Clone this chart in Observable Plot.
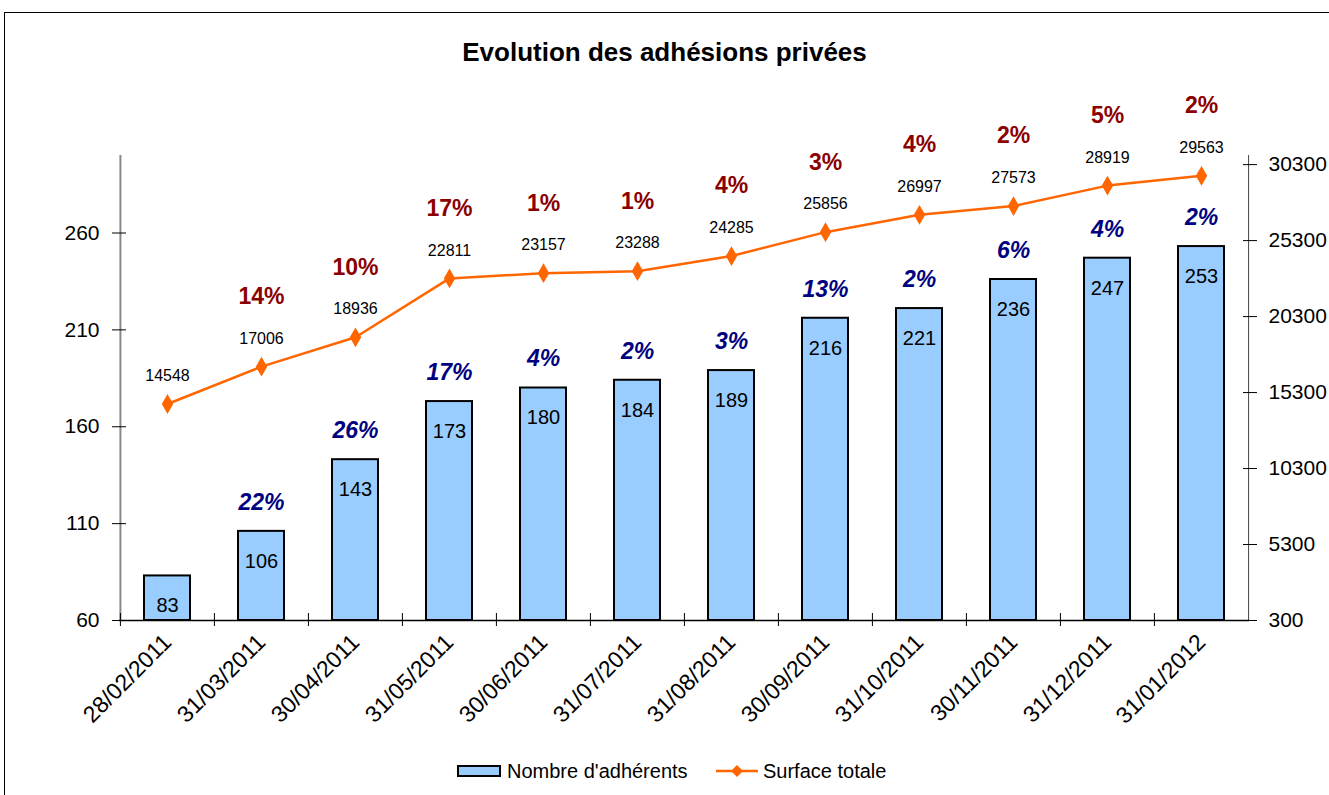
<!DOCTYPE html>
<html>
<head>
<meta charset="utf-8">
<script src="https://cdn.jsdelivr.net/npm/d3@7"></script>
<script src="https://cdn.jsdelivr.net/npm/@observablehq/plot@0.6"></script>
<style>
  html, body { margin: 0; padding: 0; background: #fff; overflow: hidden; }
  body { width: 1329px; height: 795px; position: relative; font-family: "Liberation Sans", Arial, sans-serif; }
  #frame { position: absolute; left: 4px; top: 12px; width: 1400px; height: 900px; border: 1.5px solid #000; box-sizing: border-box; z-index: 10; pointer-events: none; background: transparent; }
  #title { position: absolute; left: 0; top: 37px; width: 1329px; text-align: center; font-size: 26px; font-weight: bold; line-height: 30px; color: #000; }
  #chart { position: absolute; left: 0; top: 80px; }
  #legend { position: absolute; top: 759px; left: 0; width: 1329px; height: 24px; font-size: 20px; color: #000; }
  .item { position: absolute; top: 0; display: flex; align-items: center; height: 24px; }
</style>
</head>
<body>
<div id="frame"></div>
<div id="title">Evolution des adhésions privées</div>
<div id="chart"></div>
<div id="legend">
  <div class="item" style="left:457px">
    <svg width="46" height="16" style="margin-right:4px"><rect x="1" y="3" width="42" height="10" fill="#99CCFF" stroke="#000" stroke-width="2"/></svg>
    <span>Nombre d'adhérents</span>
  </div>
  <div class="item" style="left:715px">
    <svg width="46" height="16" style="margin-right:2px"><line x1="1" y1="8" x2="43" y2="8" stroke="#FF6600" stroke-width="2.5"/><path d="M22,2 L28,8 L22,14 L16,8 Z" fill="#FF6600"/></svg>
    <span>Surface totale</span>
  </div>
</div>
<script>
const dates = ["28/02/2011","31/03/2011","30/04/2011","31/05/2011","30/06/2011","31/07/2011","31/08/2011","30/09/2011","31/10/2011","30/11/2011","31/12/2011","31/01/2012"];
const adherents = [83,106,143,173,180,184,189,216,221,236,247,253];
const adherentsPct = [null,22,26,17,4,2,3,13,2,6,4,2];
const surface = [14548,17006,18936,22811,23157,23288,24285,25856,26997,27573,28919,29563];
const surfacePct = [null,14,10,17,1,1,4,3,4,2,5,2];
const leftTicks = [60,110,160,210,260];
const rightTicks = [300,5300,10300,15300,20300,25300,30300];

const leftDomain = [60, 300];
const rightDomain = [300, 30900];
const toLeft = s => leftDomain[0] + (s - rightDomain[0]) * (leftDomain[1] - leftDomain[0]) / (rightDomain[1] - rightDomain[0]);
const toRight = v => rightDomain[0] + (v - leftDomain[0]) * (rightDomain[1] - rightDomain[0]) / (leftDomain[1] - leftDomain[0]);

const table = dates.map((d, i) => ({
  date: d, n: adherents[i], np: adherentsPct[i],
  s: surface[i], sl: toLeft(surface[i]), sp: surfacePct[i]
}));
const withPct = table.filter(d => d.np != null);

const W = 1329, H = 660, mL = 119, mR = 80, mT = 75, mB = 120;
const step = (W - mL - mR) / dates.length;
const font = "Liberation Sans, Arial, sans-serif";

const chart = Plot.plot({
  width: W, height: H,
  marginLeft: mL, marginRight: mR, marginTop: mT, marginBottom: mB,
  style: { fontFamily: font, background: "transparent", overflow: "visible" },
  x: { type: "band", domain: dates, paddingInner: 0.51, paddingOuter: 0.255, label: null },
  y: { domain: leftDomain, label: null },
  marks: [
    Plot.barY(table, { x: "date", y1: leftDomain[0], y2: "n", fill: "#99CCFF", stroke: "#000", strokeWidth: 2 }),
    // axis lines
    Plot.ruleX([dates[0]], { dx: -step / 2, stroke: "#888", strokeWidth: 2 }),
    Plot.ruleX([dates[dates.length - 1]], { dx: step / 2, stroke: "#444", strokeWidth: 1 }),
    Plot.ruleY([leftDomain[0]], { stroke: "#000", strokeWidth: 1.5 }),
    // left axis
    Plot.axisY({ ticks: leftTicks, anchor: "left", tickSize: 14, dx: 7, tickPadding: 13, fontSize: 21, fill: "#000", label: null }),
    // right axis
    Plot.axisY({ ticks: rightTicks.map(toLeft), anchor: "right", tickSize: 14, dx: -7, tickPadding: 12, fontSize: 21, fill: "#000",
      tickFormat: v => String(Math.round(toRight(v))), label: null }),
    // x boundary ticks
    Plot.axisX({ ticks: dates, tickSize: 13, dx: -step / 2, dy: -7, tickFormat: () => "", label: null }),
    // x labels
    Plot.axisX({ ticks: dates, tickSize: 0, tickRotate: -45, tickPadding: 18, fontSize: 23, fill: "#000", label: null }),
    // bar labels
    Plot.text(table, { x: "date", y: "n", text: d => String(d.n), dy: 30, fontSize: 20, fill: "#000" }),
    Plot.text(withPct, { x: "date", y: "n", text: d => d.np + "%", dy: -29, fontSize: 23, fontWeight: "bold", fontStyle: "italic", fill: "#000080" }),
    // surface line
    Plot.line(table, { x: "date", y: "sl", stroke: "#FF6600", strokeWidth: 2.5 }),
    Plot.dot(table, { x: "date", y: "sl", symbol: "diamond", r: 6, fill: "#FF6600", stroke: "none" }),
    Plot.text(table, { x: "date", y: "sl", text: d => String(d.s), dy: -28, fontSize: 16, fill: "#000" }),
    Plot.text(withPct, { x: "date", y: "sl", text: d => d.sp + "%", dy: -70, fontSize: 23, fontWeight: "bold", fill: "#8B0000" })
  ]
});
document.getElementById("chart").appendChild(chart);
</script>
</body>
</html>
